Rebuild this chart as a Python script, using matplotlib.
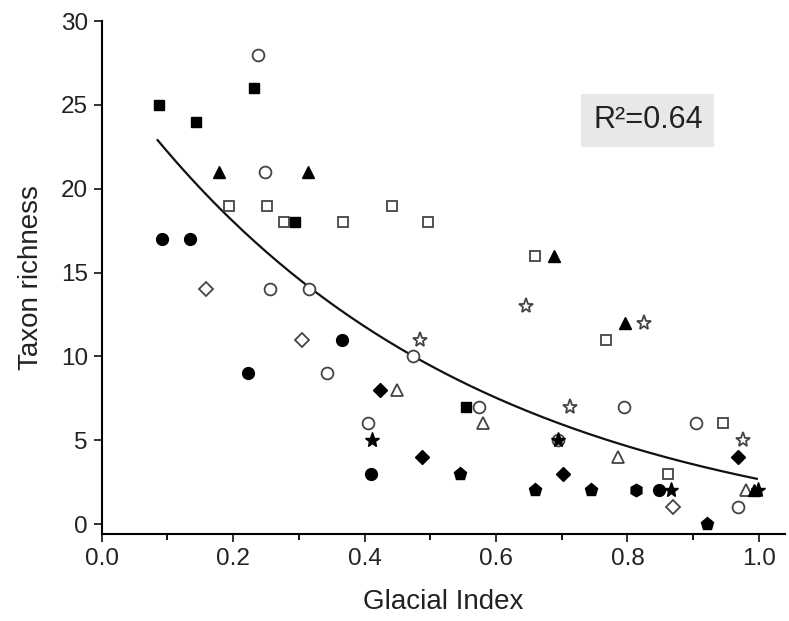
import numpy as np
import matplotlib
matplotlib.use("Agg")
import matplotlib.pyplot as plt
from matplotlib.ticker import MultipleLocator

plt.rcParams['font.family'] = ['Liberation Sans', 'DejaVu Sans']

# data (x = glacial index, y = taxon richness)
filled_square_x = [0.087, 0.144, 0.231, 0.294, 0.555]
filled_square_y = [25, 24, 26, 18, 7]
open_square_x = [0.193, 0.251, 0.278, 0.367, 0.442, 0.497, 0.660, 0.768, 0.862, 0.945]
open_square_y = [19, 19, 18, 18, 19, 18, 16, 11, 3, 6]
filled_circle_x = [0.091, 0.134, 0.223, 0.366, 0.410, 0.848]
filled_circle_y = [17, 17, 9, 11, 3, 2]
open_circle_x = [0.238, 0.248, 0.256, 0.316, 0.343, 0.405, 0.474, 0.574, 0.695, 0.795, 0.904, 0.969]
open_circle_y = [28, 21, 14, 14, 9, 6, 10, 7, 5, 7, 6, 1]
filled_tri_x = [0.178, 0.314, 0.689, 0.796, 0.993]
filled_tri_y = [21, 21, 16, 12, 2]
open_tri_x = [0.449, 0.581, 0.785, 0.980]
open_tri_y = [8, 6, 4, 2]
filled_diamond_x = [0.423, 0.488, 0.702, 0.969]
filled_diamond_y = [8, 4, 3, 4]
open_diamond_x = [0.158, 0.304, 0.870]
open_diamond_y = [14, 11, 1]
filled_star_x = [0.412, 0.695, 0.866, 0.999]
filled_star_y = [5, 5, 2, 2]
open_star_x = [0.484, 0.645, 0.713, 0.825, 0.976]
open_star_y = [11, 13, 7, 12, 5]
pentagon_x = [0.545, 0.659, 0.744, 0.921]
pentagon_y = [3, 2, 2, 0]
hexagon_x = [0.813]
hexagon_y = [2]

# exponential fit shown in the figure: y = y0 + a*exp(b*x)
fit_y0, fit_a, fit_b = -1.5, 28.75, -1.93
fit_xmin, fit_xmax = 0.085, 0.997
r2_text = "R\u00b2=0.64"

fig = plt.figure(figsize=(7.89, 6.21), dpi=100)
ax = fig.add_axes([0.129, 0.140, 0.866, 0.826])

edge = '#444444'
def filled(x, y, m, ms):
    ax.plot(x, y, linestyle='none', marker=m, markersize=ms, color='black', zorder=3)

def hollow(x, y, m, ms):
    ax.plot(x, y, linestyle='none', marker=m, markersize=ms, markerfacecolor='white',
            markeredgecolor=edge, markeredgewidth=1.3, zorder=3)

fx = np.linspace(fit_xmin, fit_xmax, 200)
ax.plot(fx, fit_y0 + fit_a * np.exp(fit_b * fx), color='#111111', linewidth=1.6, zorder=2)

hollow(open_square_x, open_square_y, 's', 7.5)
hollow(open_circle_x, open_circle_y, 'o', 8.5)
hollow(open_tri_x, open_tri_y, '^', 9)
hollow(open_diamond_x, open_diamond_y, 'D', 7)
hollow(open_star_x, open_star_y, '*', 11)
filled(filled_square_x, filled_square_y, 's', 7.5)
filled(filled_circle_x, filled_circle_y, 'o', 8.5)
filled(filled_tri_x, filled_tri_y, '^', 9)
filled(filled_diamond_x, filled_diamond_y, 'D', 7)
filled(filled_star_x, filled_star_y, '*', 11)
filled(pentagon_x, pentagon_y, 'p', 9.5)
filled(hexagon_x, hexagon_y, 'h', 9)

ax.set_xlim(0, 1.04)
ax.set_ylim(-0.6, 30)
ax.xaxis.set_major_locator(MultipleLocator(0.2))
ax.xaxis.set_minor_locator(MultipleLocator(0.1))
ax.yaxis.set_major_locator(MultipleLocator(5))
ax.set_xticks([0.0, 0.2, 0.4, 0.6, 0.8, 1.0])
ax.set_xticklabels(['0.0', '0.2', '0.4', '0.6', '0.8', '1.0'])

for s in ['top', 'right']:
    ax.spines[s].set_visible(False)
for s in ['left', 'bottom']:
    ax.spines[s].set_linewidth(1.5)
ax.tick_params(which='major', direction='out', length=6, width=1.3, labelsize=17.5,
               colors='#222222', pad=4)
ax.tick_params(which='minor', direction='out', length=4, width=1.3)

ax.set_xlabel('Glacial Index', fontsize=20, color='#222222', labelpad=14)
ax.set_ylabel('Taxon richness', fontsize=20, color='#222222', labelpad=12)

ax.text(0.719, 0.807, r2_text, transform=ax.transAxes, fontsize=22, color='#222222',
        ha='left', va='center',
        bbox=dict(boxstyle='square,pad=0.38', facecolor='#e8e8e8', edgecolor='none'))

fig.savefig('out.png', dpi=100)
